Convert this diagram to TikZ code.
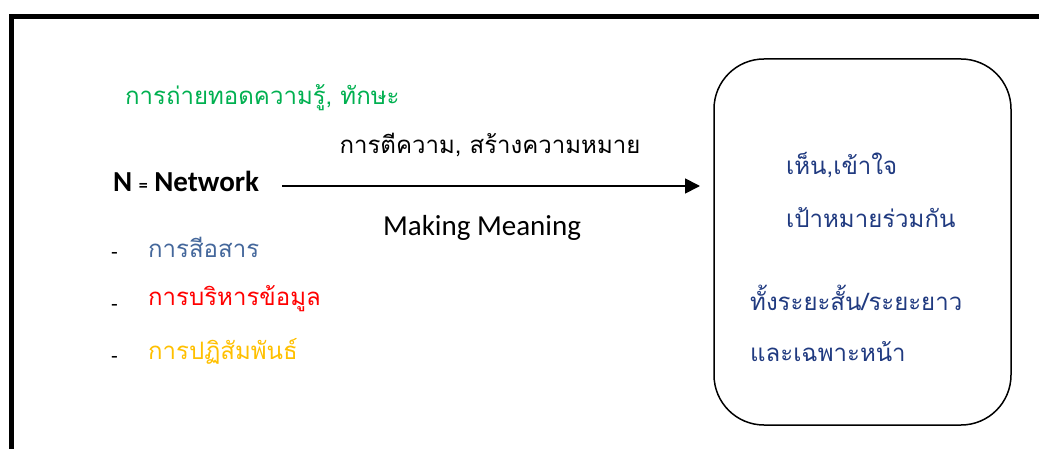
\documentclass[tikz,border=0pt]{standalone}
\usepackage{fontspec}
\setmainfont{Carlito}
\newfontfamily\thai[Script=Thai]{Loma}
\usetikzlibrary{arrows.meta}
\definecolor{tgreen}{HTML}{00B050}
\definecolor{tblue}{HTML}{44679B}
\definecolor{tred}{HTML}{FF0000}
\definecolor{tgold}{HTML}{FFC000}
\definecolor{tnavy}{HTML}{203A80}
\begin{document}
\begin{tikzpicture}[x=1pt,y=-1pt,
  thaitxt/.style={font=\thai\fontsize{24}{28}\selectfont, inner sep=0pt, anchor=west},
  latin/.style={font=\fontsize{29}{33}\selectfont, inner sep=0pt},
  dashmark/.style={font=\fontsize{22}{26}\selectfont, inner sep=0pt, anchor=west},
  goalbox/.style={draw, line width=1.5pt, rounded corners=50pt, minimum width=297pt, minimum height=366pt, inner sep=0pt},
  arr/.style={-{Triangle[length=15pt,width=15pt]}, line width=1.8pt}]
\useasboundingbox (0,0) rectangle (1039,449);
\begin{scope}
  \clip (0,0) rectangle (1039,449);
  \draw[line width=4.5pt] (11.5,16.5) rectangle (1100,520);
\end{scope}

\node[thaitxt, text=tgreen] (transfer) at (125,98) {การถ่ายทอดความรู้, ทักษะ};

\node[latin, anchor=west, font=\bfseries\fontsize{29}{33}\selectfont] (net) at (113,181) {N {\fontsize{18}{20}\selectfont =} Network};

\node[goalbox] (goal) at (862.5,242) {};

\coordinate (a1) at (282,186);
\coordinate (a2) at (700,186);
\draw[arr] (a1) -- (a2);

\node[thaitxt, anchor=center] (interp) at (490,145) {การตีความ, สร้างความหมาย};
\node[latin] (making) at (482,228) {Making Meaning};

\node[dashmark] (d1) at (111,256) {-};
\node[dashmark] (d2) at (111,308) {-};
\node[dashmark] (d3) at (111,360) {-};
\node[thaitxt, text=tblue] (comm) at (148,247) {การสีอสาร};
\node[thaitxt, text=tred] (data) at (148,299) {การบริหารข้อมูล};
\node[thaitxt, text=tgold] (inter) at (148,351) {การปฏิสัมพันธ์};

\node[thaitxt, text=tnavy] (g1) at (786,165) {เห็น,เข้าใจ};
\node[thaitxt, text=tnavy] (g2) at (786,218) {เป้าหมายร่วมกัน};
\node[thaitxt, text=tnavy] (g3) at (750,298) {ทั้งระยะสั้น/ระยะยาว};
\node[thaitxt, text=tnavy] (g4) at (750,352) {และเฉพาะหน้า};
\end{tikzpicture}
\end{document}
